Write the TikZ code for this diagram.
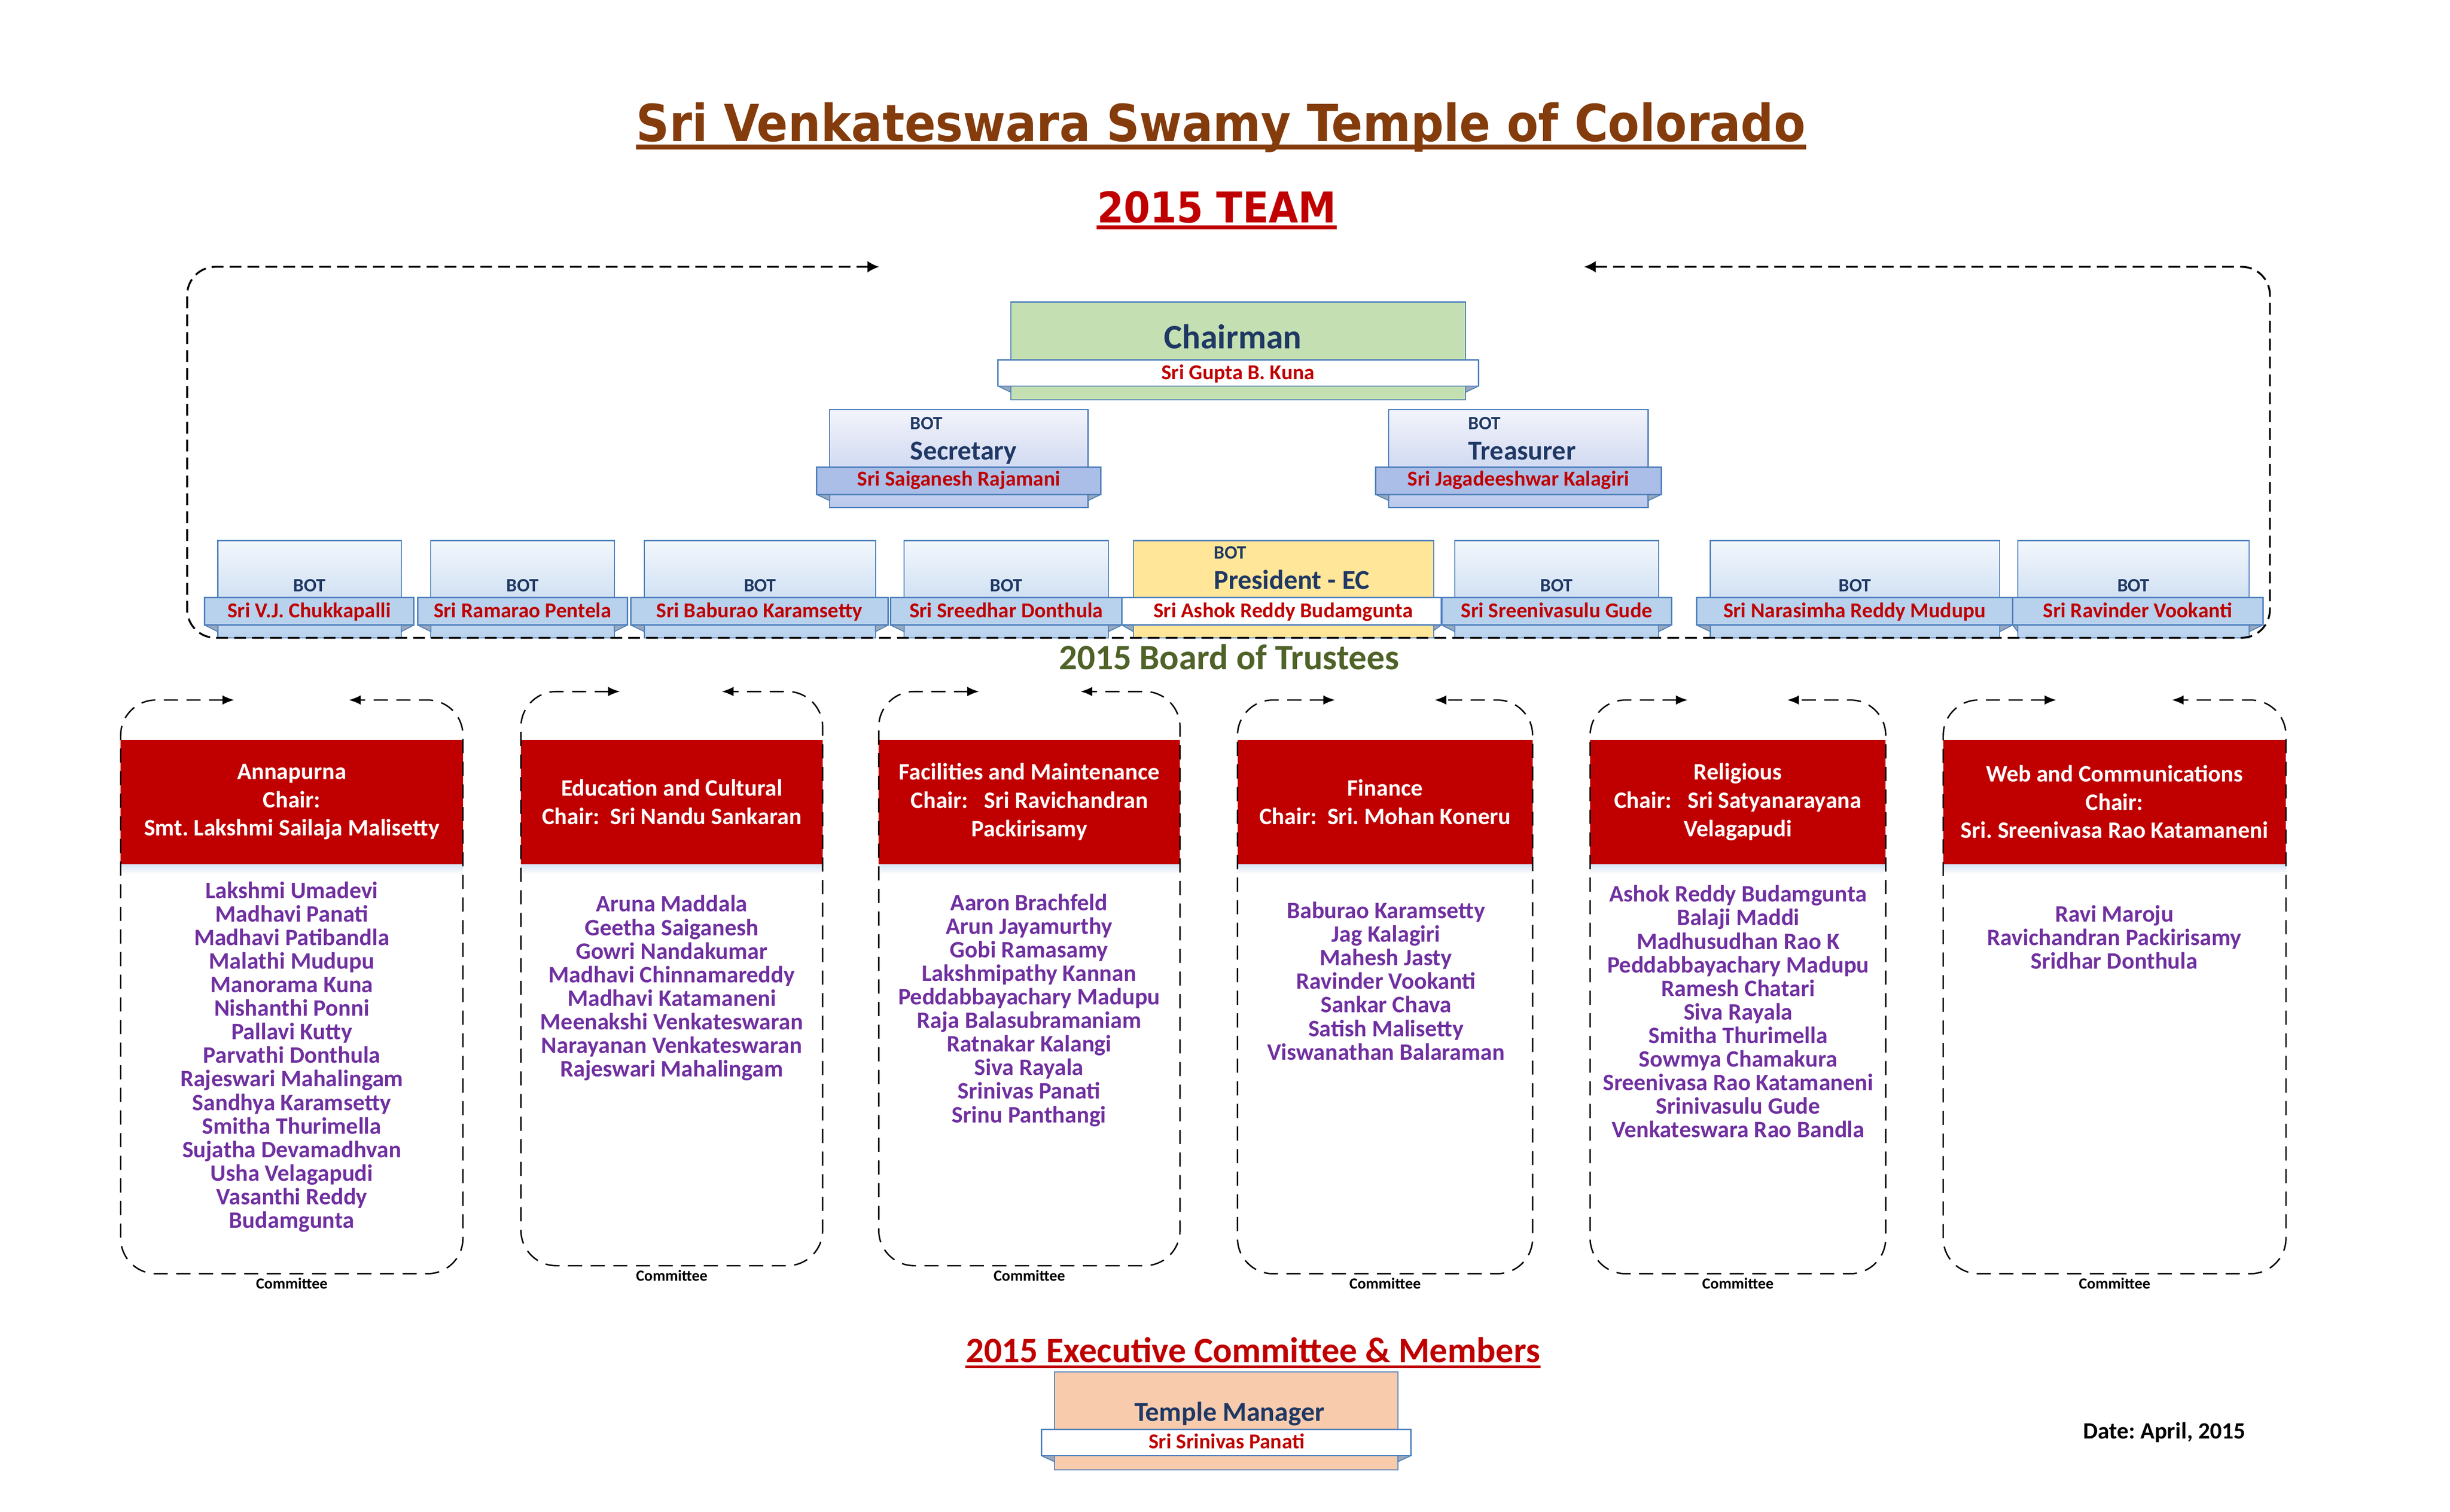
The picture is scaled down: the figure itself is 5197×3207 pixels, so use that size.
\documentclass[tikz,border=0pt]{standalone}
\usepackage{fontspec}
\setmainfont{Carlito}
\newfontfamily\titlefont{DejaVu Sans Condensed}
\usetikzlibrary{arrows.meta}
\newcommand\setfs[2]{\fontsize{#1}{#2}\selectfont}
\definecolor{navy}{HTML}{1F3864}
\definecolor{redn}{HTML}{C00000}
\definecolor{purp}{HTML}{7030A0}
\definecolor{brownT}{HTML}{843C0C}
\definecolor{greenT}{HTML}{4F6228}
\definecolor{bdr}{HTML}{4F81BD}
\definecolor{chairG}{HTML}{C4DFB2}
\definecolor{presY}{HTML}{FFE699}
\definecolor{peach}{HTML}{F8CBAD}
\definecolor{bTop}{HTML}{F3F7FC}
\definecolor{bBot}{HTML}{B9D2ED}
\definecolor{bBan}{HTML}{B8D1EC}
\definecolor{sTop}{HTML}{F3F4FB}
\definecolor{sBot}{HTML}{BAC8EB}
\definecolor{sBan}{HTML}{AABEE7}
\definecolor{foldC}{HTML}{9AA8BA}
\definecolor{shadowC}{HTML}{D5E2F2}
\tikzset{
  bluebox/.style={draw=bdr, line width=0.45pt, top color=bTop, bottom color=bBot},
  bluebanner/.style={draw=bdr, line width=0.6pt, fill=bBan},
  secbox/.style={draw=bdr, line width=0.45pt, top color=sTop, bottom color=sBot},
  secbanner/.style={draw=bdr, line width=0.6pt, fill=sBan},
  whitebanner/.style={draw=bdr, line width=0.6pt, fill=white},
  fold/.style={draw=bdr, line width=0.4pt, fill=foldC, line join=round},
  botlbl/.style={font=\bfseries\setfs{8}{9}, text=navy, anchor=base, inner sep=0},
  bname/.style={font=\bfseries\setfs{9}{10}, text=redn, anchor=base, inner sep=0},
  role/.style={font=\bfseries\setfs{11.6}{13}, text=navy, anchor=base west, inner sep=0},
  hdr/.style={fill=redn},
  hdrtext/.style={font=\bfseries\setfs{10}{12}, text=white, align=center, inner sep=0},
  members/.style={font=\bfseries\setfs{10}{10}, text=purp, align=center, inner sep=0},
  clabel/.style={font=\bfseries\setfs{6.6}{7}, text=black, inner sep=0},
  cdash/.style={draw=black, line width=0.6pt, dash pattern=on 6pt off 3.6pt, rounded corners=15pt,
     {Latex[length=5pt,width=4pt]}-{Latex[length=5pt,width=4pt]}},
  mdash/.style={draw=black, line width=0.8pt, dash pattern=on 5pt off 2.6pt, rounded corners=12pt,
     {Latex[length=5pt,width=5pt]}-{Latex[length=5pt,width=5pt]}},
}
\newcommand\committee[8]{%
  \shade[top color=shadowC, bottom color=white] (#2,1833) rectangle (#3,1855);
  \fill[hdr] (#2,1570) rectangle (#3,1833);
  \node[hdrtext] (#1h) at ({(#2+#3)/2},1701) {#8};
  \coordinate (#1a) at (#6,#4);
  \coordinate (#1b) at (#7,#4);
  \draw[cdash] (#1a) -- (#2,#4) -- (#2,#5) -- (#3,#5) -- (#3,#4) -- (#1b);
  \node[clabel] (#1l) at ({(#2+#3)/2},{#5+21}) {Committee};
}
\begin{document}
\frenchspacing
\begin{tikzpicture}[x=0.2pt,y=-0.2pt]
\useasboundingbox (0,0) rectangle (5197,3207);

% ---------- titles
\node[font=\titlefont\bfseries\setfs{21.7}{25}, text=brownT, anchor=base, inner sep=0] (title) at (2590,300) {Sri Venkateswara Swamy Temple of Colorado};
\draw[brownT, line width=2pt] ([yshift=-2.4pt]title.base west) -- ([yshift=-2.4pt]title.base east);
\node[font=\titlefont\bfseries\setfs{18}{21}, text=redn, anchor=base, inner sep=0] (team) at (2581,472) {2015 TEAM};
\draw[redn, line width=1.6pt] ([yshift=-2pt]team.base west) -- ([yshift=-2pt]team.base east);

% ---------- Chairman
\draw[draw=bdr, line width=0.5pt, fill=chairG] (2144,641) rectangle (3109,848);
\filldraw[fold] (2117,819) -- (2144,819) -- (2144,832) -- cycle;
\filldraw[fold] (3136,819) -- (3109,819) -- (3109,832) -- cycle;
\draw[whitebanner] (2117,763) rectangle (3136,819);
\node[font=\bfseries\setfs{14.6}{16}, text=navy, anchor=base, inner sep=0] (chair) at (2615,740) {Chairman};
\node[bname] (chairname) at (2626,805) {Sri Gupta B. Kuna};

% ---------- Secretary
\draw[secbox] (1760,869) rectangle (2308,1077);
\filldraw[fold] (1732,1049) -- (1760,1049) -- (1760,1062) -- cycle;
\filldraw[fold] (2335,1049) -- (2308,1049) -- (2308,1062) -- cycle;
\draw[secbanner] (1732,991) rectangle (2335,1049);
\node[botlbl, anchor=base west] (secbot) at (1930,911) {BOT};
\node[role] (sec) at (1930,975) {Secretary};
\node[bname] (secname) at (2034,1031) {Sri Saiganesh Rajamani};

% ---------- Treasurer
\draw[secbox] (2946,869) rectangle (3496,1077);
\filldraw[fold] (2918,1049) -- (2946,1049) -- (2946,1062) -- cycle;
\filldraw[fold] (3524,1049) -- (3496,1049) -- (3496,1062) -- cycle;
\draw[secbanner] (2918,991) rectangle (3524,1049);
\node[botlbl, anchor=base west] (trbot) at (3114,911) {BOT};
\node[role] (tr) at (3114,975) {Treasurer};
\node[bname] (trname) at (3221,1031) {Sri Jagadeeshwar Kalagiri};

% ---------- bottom row of trustees
\foreach \id/\bl/\br/\nl/\nr/\nm in {
  v1/462/851/434/878/{Sri V.J. Chukkapalli},
  v2/914/1303/886/1331/{Sri Ramarao Pentela},
  v3/1367/1857/1338/1884/{Sri Baburao Karamsetty},
  v4/1918/2351/1889/2380/{Sri Sreedhar Donthula},
  v6/3086/3518/3058/3546/{Sri Sreenivasulu Gude},
  v7/3628/4242/3599/4269/{Sri Narasimha Reddy Mudupu},
  v8/4280/4771/4269/4800/{Sri Ravinder Vookanti}}{
  \draw[bluebox] (\bl,1147) rectangle (\br,1353);
  \filldraw[fold] (\nl,1326) -- (\bl,1326) -- (\bl,1340) -- cycle;
  \filldraw[fold] (\nr,1326) -- (\br,1326) -- (\br,1340) -- cycle;
  \draw[bluebanner] (\nl,1268) rectangle (\nr,1326);
  \node[botlbl] (bot\id) at ({(\bl+\br)/2},1255) {BOT};
  \node[bname] (name\id) at ({(\nl+\nr)/2},1310) {\nm};
}

% ---------- President
\draw[draw=bdr, line width=0.45pt, fill=presY] (2404,1147) rectangle (3041,1353);
\filldraw[fold] (2380,1326) -- (2404,1326) -- (2404,1340) -- cycle;
\filldraw[fold] (3057,1326) -- (3041,1326) -- (3041,1338) -- cycle;
\draw[whitebanner] (2380,1268) rectangle (3057,1326);
\node[botlbl, anchor=base west] (presbot) at (2574,1185) {BOT};
\node[role] (pres) at (2574,1250) {President - EC};
\node[bname] (presname) at (2722,1310) {Sri Ashok Reddy Budamgunta};

% ---------- Board frame
\coordinate (fa) at (1865,566);
\coordinate (fb) at (3360,566);
\draw[mdash] (fa) -- (397,566) -- (397,1353) -- (4815,1353) -- (4815,566) -- (fb);
\node[font=\bfseries\setfs{15.2}{17}, text=greenT, anchor=base, inner sep=0] (bot) at (2607,1420) {2015 Board of Trustees};

% ---------- committees
\committee{ca}{256}{982}{1485}{2702}{497}{740}{Annapurna\\Chair:\\Smt. Lakshmi Sailaja Malisetty}
\node[members] (cam) at (619,2242) {Lakshmi Umadevi\\Madhavi Panati\\Madhavi Patibandla\\Malathi Mudupu\\Manorama Kuna\\Nishanthi Ponni\\Pallavi Kutty\\Parvathi Donthula\\Rajeswari Mahalingam\\Sandhya Karamsetty\\Smitha Thurimella\\Sujatha Devamadhvan\\Usha Velagapudi\\Vasanthi Reddy\\Budamgunta};

\committee{cb}{1105}{1745}{1467}{2685}{1315}{1531}{Education and Cultural\\Chair:\ \ Sri Nandu Sankaran}
\node[members] (cbm) at (1425,2096) {Aruna Maddala\\Geetha Saiganesh\\Gowri Nandakumar\\Madhavi Chinnamareddy\\Madhavi Katamaneni\\Meenakshi Venkateswaran\\Narayanan Venkateswaran\\Rajeswari Mahalingam};

\committee{cc}{1864}{2503}{1467}{2685}{2077}{2292}{Facilities and Maintenance\\Chair:\ \ \ Sri Ravichandran\\Packirisamy}
\node[members] (ccm) at (2183,2143) {Aaron Brachfeld\\Arun Jayamurthy\\Gobi Ramasamy\\Lakshmipathy Kannan\\Peddabbayachary Madupu\\Raja Balasubramaniam\\Ratnakar Kalangi\\Siva Rayala\\Srinivas Panati\\Srinu Panthangi};

\committee{cd}{2625}{3251}{1485}{2702}{2832}{3043}{Finance\\Chair:\ \ Sri. Mohan Koneru}
\node[members] (cdm) at (2940,2081) {Baburao Karamsetty\\Jag Kalagiri\\Mahesh Jasty\\Ravinder Vookanti\\Sankar Chava\\Satish Malisetty\\Viswanathan Balaraman};

\committee{ce}{3373}{4000}{1485}{2702}{3580}{3791}{Religious\\Chair:\ \ \ Sri Satyanarayana\\Velagapudi}
\node[members] (cem) at (3687,2146) {Ashok Reddy Budamgunta\\Balaji Maddi\\Madhusudhan Rao K\\Peddabbayachary Madupu\\Ramesh Chatari\\Siva Rayala\\Smitha Thurimella\\Sowmya Chamakura\\Sreenivasa Rao Katamaneni\\Srinivasulu Gude\\Venkateswara Rao Bandla};

\committee{cf}{4122}{4849}{1485}{2702}{4362}{4607}{Web and Communications\\Chair:\\Sri. Sreenivasa Rao Katamaneni}
\node[members] (cfm) at (4485,1988) {Ravi Maroju\\Ravichandran Packirisamy\\Sridhar Donthula};

% ---------- Executive committee
\node[font=\bfseries\setfs{15.1}{17}, text=redn, anchor=base, inner sep=0] (exec) at (2658,2890) {2015 Executive Committee \& Members};
\draw[redn, line width=1pt] ([yshift=-1.8pt]exec.base west) -- ([yshift=-1.8pt]exec.base east);

\draw[draw=bdr, line width=0.45pt, fill=peach] (2237,2910) rectangle (2965,3118);
\filldraw[fold] (2209,3088) -- (2237,3088) -- (2237,3101) -- cycle;
\filldraw[fold] (2993,3088) -- (2965,3088) -- (2965,3101) -- cycle;
\draw[whitebanner] (2209,3032) rectangle (2993,3088);
\node[font=\bfseries\setfs{11.6}{13}, text=navy, anchor=base, inner sep=0] (tm) at (2608,3015) {Temple Manager};
\node[bname] (tmname) at (2602,3073) {Sri Srinivas Panati};

\node[font=\bfseries\setfs{9.9}{11}, text=black, anchor=base west, inner sep=0] (date) at (4418,3052) {Date: April, 2015};
\end{tikzpicture}
\end{document}
